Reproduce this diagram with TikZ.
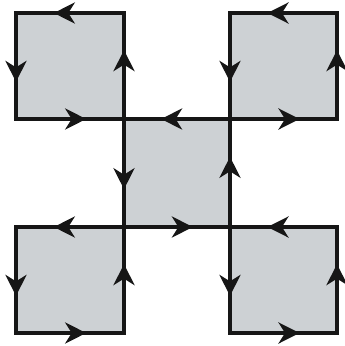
\documentclass[tikz,border=0pt]{standalone}
\usetikzlibrary{arrows.meta,calc}
\definecolor{cellg}{RGB}{205,209,212}
\definecolor{rimc}{RGB}{22,22,22}

\begin{document}
\begin{tikzpicture}[x=1pt,y=-1pt,
  cell/.style={fill=cellg,draw=rimc,line width=4.5pt,line join=miter},
  flow/.style={draw=rimc,line width=4.5pt,-{Stealth[length=21pt,width=21pt,inset=6.5pt]}}]
\useasboundingbox (0,0) rectangle (345,346);
% --- five cells, each run round anticlockwise ---
\foreach \xa/\ya/\xb/\yb in {16/13/124/119, 230/13/337/119, 124/119/230/227,
                             16/227/124/333, 230/227/337/333}{
  \coordinate (ne) at (\xb,\ya);
  \coordinate (nw) at (\xa,\ya);
  \coordinate (sw) at (\xa,\yb);
  \coordinate (se) at (\xb,\yb);
  \draw[cell] (ne) -- (nw) -- (sw) -- (se) -- cycle;
  % --- one arrow per side ---
  \foreach \p/\q in {ne/nw, nw/sw, sw/se, se/ne}
    \draw[flow] ($(\p)!0.45!(\q)$) -- ($(\p)!0.65!(\q)$);
}
\end{tikzpicture}
\end{document}
